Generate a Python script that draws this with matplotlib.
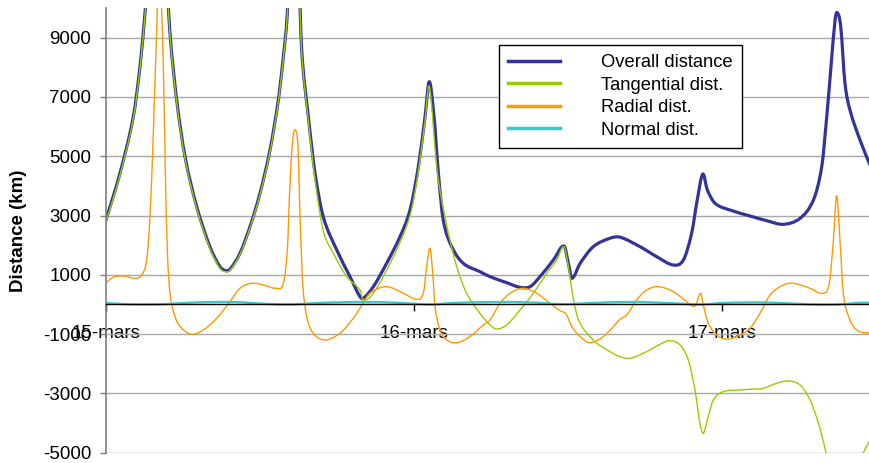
import matplotlib
matplotlib.use('Agg')
import matplotlib.pyplot as plt
from matplotlib.path import Path
from matplotlib.patches import PathPatch
from matplotlib.lines import Line2D

plt.rcParams['font.family'] = ['Liberation Sans', 'DejaVu Sans']
plt.rcParams['axes.unicode_minus'] = False

# time in hours from 15 March 00:00, distances in km
t_overall = [0, 1.09, 2.13, 2.65, 3.04, 3.45, 4.0, 4.6, 4.99, 5.51, 6.16, 7.07, 8.10, 8.88, 9.35,
             9.66, 10.44, 11.22, 12.0, 12.78, 13.43, 13.82, 14.13, 14.61, 15.0, 15.25, 15.77, 16.29,
             16.93, 17.98, 19.01, 19.79, 20.05, 20.83, 21.87, 22.91, 23.69, 24.34, 24.86, 25.19,
             25.56, 25.90, 26.28, 26.94, 27.84, 29.14, 29.92, 31.22, 32.26, 33.04, 33.82, 34.86,
             35.69, 36.03, 36.30, 36.95, 37.97, 39.27, 40.05, 41.61, 42.91, 44.21, 44.99, 45.63,
             46.07, 46.50, 46.86, 47.46, 48.62, 50.18, 51.48, 52.78, 54.08, 55.12, 55.77, 56.16,
             56.49, 56.81, 56.98, 57.25, 57.58, 57.97, 58.75, 59.53]
overall = [2850, 4425, 6335, 8020, 9820, 12000, 15000, 12000, 9150, 6900, 4985, 3300, 1950, 1275, 1140,
           1187, 1727, 2624, 3750, 5210, 6900, 8360, 9820, 14000, 11500, 8585, 6335, 4425,
           2960, 1840, 940, 265, 210, 600, 1390, 2290, 3190, 4650, 6335, 7515,
           6335, 4425, 2850, 1950, 1390, 1107, 940, 735, 580, 600, 940, 1500,
           1973, 1390, 884, 1390, 1950, 2233, 2270, 1950, 1613, 1332, 1500, 2400,
           3525, 4400, 3860, 3413, 3187, 2985, 2827, 2705, 2907, 3525, 4650, 6335,
           8020, 9600, 9845, 9370, 7460, 6560, 5550, 4705]

t_tangential = [0, 1.09, 2.13, 2.65, 3.04, 3.45, 4.0, 4.6, 4.99, 5.51, 6.16, 7.07, 8.10, 8.88, 9.35,
                9.66, 10.44, 11.22, 12.0, 12.78, 13.43, 13.82, 14.13, 14.61, 15.0, 15.25, 15.77, 16.29,
                16.93, 17.72, 18.76, 19.79, 20.05, 20.83, 22.39, 23.69, 24.34, 24.86, 25.19,
                25.77, 26.16, 26.68, 27.33, 28.10, 29.14, 29.92, 30.44, 31.22, 32.26, 33.30, 34.34,
                35.12, 35.69, 36.03, 36.43, 36.82, 37.47, 38.25, 39.27, 40.05, 40.83, 42.13, 43.17,
                43.95, 44.73, 45.37, 45.89, 46.28, 46.54, 46.86, 47.32, 48.10, 49.40, 50.18, 51.22,
                52.26, 53.17, 54.08, 54.86, 55.51, 56.10, 56.80, 57.60, 58.40, 59.01, 59.53]
tangential = [2780, 4360, 6270, 7950, 9750, 11900, 14900, 11900, 9080, 6830, 4920, 3240, 1890, 1220, 1100,
              1150, 1690, 2580, 3700, 5150, 6840, 8300, 9760, 13900, 11400, 8520, 6200, 4200,
              2500, 1727, 940, 490, 150, 380, 1612, 3000, 4500, 6200, 7350,
              4650, 3525, 2400, 1275, 380, -300, -690, -826, -690, -185, 380, 1050,
              1500, 1950, 1275, 150, -520, -970, -1310, -1590, -1760, -1815, -1590, -1343,
              -1220, -1366, -1870, -2880, -4007, -4345, -3896, -3221, -2940, -2884, -2860, -2827,
              -2658, -2580, -2715, -3221, -4007, -5000, -6500, -6800, -5600, -5000, -4570]

t_radial = [0, 0.57, 1.35, 2.26, 2.78, 3.17, 3.43, 3.69, 3.90, 4.17, 4.47, 4.62, 4.78, 4.99, 5.38,
            5.90, 6.68, 7.58, 8.63, 9.66, 10.44, 11.35, 12.26, 13.30, 13.82, 14.13, 14.34, 14.55,
            14.75, 14.96, 15.12, 15.33, 15.64, 16.15, 17.06, 18.23, 19.27, 19.79, 20.57, 21.87,
            23.16, 24.21, 24.73, 24.99, 25.25, 25.46, 25.64, 26.03, 26.55, 27.33, 28.36, 29.40,
            29.92, 30.70, 31.48, 32.52, 33.56, 34.60, 35.38, 35.85, 36.30, 36.95, 37.71, 38.75,
            39.53, 40.05, 40.57, 41.35, 42.13, 43.04, 44.21, 45.25, 45.89, 46.33, 46.54, 46.93,
            47.59, 48.36, 49.40, 50.18, 50.96, 51.74, 52.78, 53.56, 54.86, 55.89, 56.36, 56.68,
            56.93, 57.19, 57.45, 57.97, 58.49, 59.01, 59.53]
radial = [735, 917, 961, 884, 995, 1500, 2960, 5775, 8585, 11500, 8020, 4650, 1840, 380, -410,
          -803, -1005, -860, -465, 94, 546, 715, 658, 546, 715, 1840, 4088, 5550,
          5886, 5322, 2960, 715, -410, -970, -1197, -970, -465, -128, 380, 600,
          380, 175, 380, 1275, 1895, 1050, -74, -860, -1197, -1288, -1086, -690,
          -523, 40, 378, 546, 378, 40, -210, -320, -748, -1086, -1288, -1086,
          -748, -500, -354, 152, 489, 600, 432, 94, -50, 378, -17, -634,
          -1029, -1174, -1029, -803, -297, 320, 658, 715, 546, 378, 715, 2175,
          3670, 2175, 378, -523, -860, -950, -950]

t_normal = [0, 1.5, 3.5, 5, 7, 10, 12.5, 14.5, 16, 19, 22, 24.5, 25.5, 27, 30, 33, 35.5, 36.5,
            39, 42, 45, 46.5, 48, 51, 53, 55, 57, 58.5, 59.53]
normal = [50, 10, 0, 20, 70, 80, 20, 0, 40, 80, 70, 10, 0, 50, 80, 70, 10, 20,
          70, 80, 20, 0, 50, 70, 40, 0, 0, 50, 60]

day_ticks = [0, 24, 48]
day_labels = ['15-mars', '16-mars', '17-mars']
y_ticks = [-5000, -3000, -1000, 1000, 3000, 5000, 7000, 9000]


def smooth_path(x, y):
    # cubic Hermite segments as bezier curves (smoothed line)
    n = len(x)
    slopes = []
    for i in range(n):
        a, b = max(i - 1, 0), min(i + 1, n - 1)
        slopes.append((y[b] - y[a]) / (x[b] - x[a]))
    verts = [(x[0], y[0])]
    codes = [Path.MOVETO]
    for i in range(n - 1):
        h = (x[i + 1] - x[i]) / 3
        verts += [(x[i] + h, y[i] + slopes[i] * h),
                  (x[i + 1] - h, y[i + 1] - slopes[i + 1] * h),
                  (x[i + 1], y[i + 1])]
        codes += [Path.CURVE4] * 3
    return Path(verts, codes)


fig = plt.figure(figsize=(8.7, 4.63), dpi=100)
ax = fig.add_axes([0.1218, 0.0222, 0.8782, 0.9605])

series = [
    (t_overall, overall, '#333399', 2.3, 'Overall distance'),
    (t_tangential, tangential, '#99CC00', 1.0, 'Tangential dist.'),
    (t_radial, radial, '#FF9900', 1.0, 'Radial dist.'),
    (t_normal, normal, '#33CCCC', 1.7, 'Normal dist.'),
]
handles = []
for k, (xs, ys, c, lw, name) in enumerate(series):
    ax.add_patch(PathPatch(smooth_path(xs, ys), fill=False, edgecolor=c, lw=lw,
                           joinstyle='round', capstyle='round', zorder=2 + 0.1 * k))
    handles.append(Line2D([], [], color=c, lw=2.5, label=name))

ax.set_xlim(0, 59.53)
ax.set_ylim(-5000, 10000)
ax.set_yticks(y_ticks)
ax.set_xticks(day_ticks)
ax.set_xticklabels(day_labels)
ax.grid(axis='y', color='#a8a8a8', lw=1.0)
ax.set_axisbelow(True)

for s in ['top', 'right']:
    ax.spines[s].set_visible(False)
ax.spines['left'].set_color('#808080')
ax.spines['left'].set_linewidth(1.2)
ax.spines['bottom'].set_position(('data', 0))
ax.spines['bottom'].set_color('black')
ax.spines['bottom'].set_linewidth(1.0)

ax.tick_params(axis='y', direction='out', length=4.5, width=1.0, color='#808080',
               labelsize=13.5, pad=6)
ax.tick_params(axis='x', direction='out', length=5, width=1.0, color='black',
               labelsize=13.5, pad=10)

ax.set_ylabel('Distance (km)', fontsize=13.5, fontweight='bold')
ax.yaxis.set_label_coords(-0.103, 0.5)

leg = ax.legend(handles=handles, loc='upper left', bbox_to_anchor=(499 / 870, 1 - 45 / 463),
                bbox_transform=fig.transFigure, fontsize=13.2, frameon=True,
                fancybox=False, edgecolor='black', framealpha=1, borderpad=0.5,
                labelspacing=0.3, handlelength=2.8, handletextpad=2.25,
                borderaxespad=0)
leg.get_frame().set_linewidth(1.0)

fig.savefig('out.png', dpi=100)
